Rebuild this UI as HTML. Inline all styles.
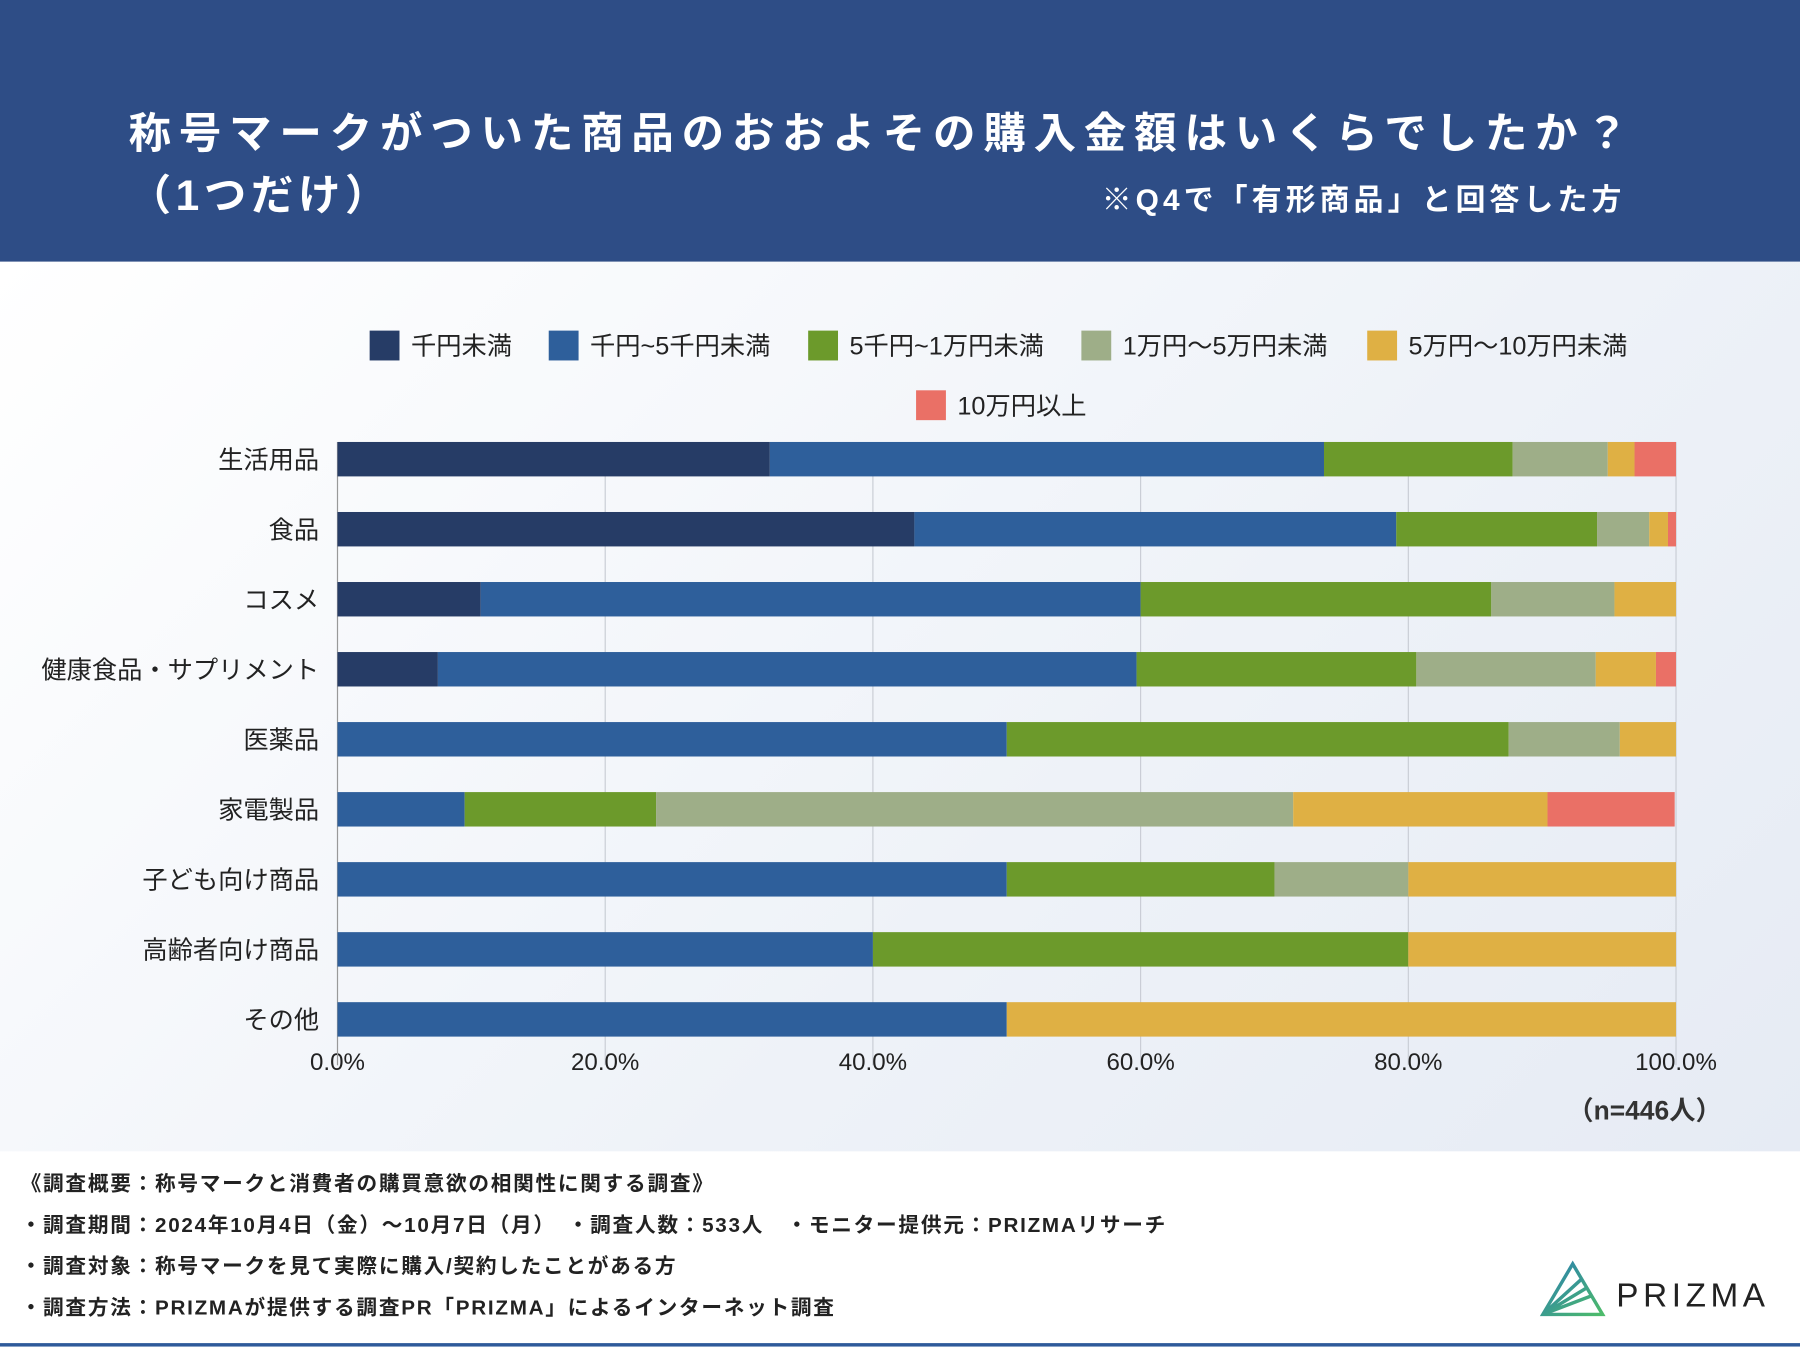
<!DOCTYPE html>
<html><head><meta charset="utf-8"><style>
html,body{margin:0;padding:0;width:1800px;height:1350px;overflow:hidden;background:#fff}
#wrap{position:absolute;left:0;top:0;width:1568px;height:1176px;transform:scale(1.147959);transform-origin:0 0;font-family:"Liberation Sans","Noto Sans CJK JP",sans-serif}
.hdr{position:absolute;left:0;top:0;width:1568px;height:228px;background:#2e4d86;color:#fff}
.body{position:absolute;left:0;top:228px;width:1568px;height:775px;background:linear-gradient(135deg,#ffffff 0%,#eef2f8 60%,#e6ebf4 100%)}
.foot{position:absolute;left:0;top:1003px;width:1568px;height:173px;background:#fff}
.ft{position:absolute;left:18px;font-size:18px;font-weight:bold;color:#222;letter-spacing:1.5px;white-space:nowrap}
</style></head><body>
<div id="wrap">
<div class="hdr">
<div style="position:absolute;left:112px;top:86px;font-size:37px;font-weight:bold;letter-spacing:6.8px;white-space:nowrap">称号マークがついた商品のおおよその購入金額はいくらでしたか？</div>
<div style="position:absolute;left:112px;top:140px;font-size:37px;font-weight:bold;letter-spacing:4px">（1つだけ）</div>
<div style="position:absolute;right:152px;top:154px;font-size:26px;font-weight:bold;letter-spacing:3.6px;white-space:nowrap">※Q4で「有形商品」と回答した方</div>
</div>
<div class="body"></div>
<svg id="chart" style="position:absolute;left:0;top:0" width="1568" height="1003"></svg>
<div class="foot">
<div class="ft" style="top:14px">《調査概要：称号マークと消費者の購買意欲の相関性に関する調査》</div>
<div class="ft" style="top:50px">・調査期間：2024年10月4日（金）～10月7日（月）　・調査人数：533人　・モニター提供元：PRIZMAリサーチ</div>
<div class="ft" style="top:86px">・調査対象：称号マークを見て実際に購入/契約したことがある方</div>
<div class="ft" style="top:122px">・調査方法：PRIZMAが提供する調査PR「PRIZMA」によるインターネット調査</div>
<svg style="position:absolute;left:1340px;top:95px" width="220" height="55">
<defs><linearGradient id="lg" x1="0" y1="0" x2="1" y2="1"><stop offset="0" stop-color="#2a7fb0"/><stop offset="1" stop-color="#4dbb6a"/></linearGradient></defs>
<polygon points="30,3 4,47 56,47" fill="none" stroke="url(#lg)" stroke-width="3"/>
<path d="M4,47 L38,16 M4,47 L42,24 M4,47 L46,31" stroke="url(#lg)" stroke-width="3" fill="none"/>
<text x="68" y="40" font-size="29" font-family="Liberation Sans" letter-spacing="4" fill="#222">PRIZMA</text>
</svg>
<div style="position:absolute;left:0;top:167px;width:1568px;height:3px;background:#2e5a9a"></div>
</div>
</div>
<script>
const categories=["生活用品","食品","コスメ","健康食品・サプリメント","医薬品","家電製品","子ども向け商品","高齢者向け商品","その他"];
const seriesNames=["千円未満","千円~5千円未満","5千円~1万円未満","1万円～5万円未満","5万円～10万円未満","10万円以上"];
const s1=[32.3,43.1,10.7,7.5,0,0,0,0,0];
const s2=[41.4,36.0,49.3,52.2,50.0,9.5,50,40,50];
const s3=[14.1,15.0,26.2,20.9,37.5,14.3,20,40,0];
const s4=[7.1,3.9,9.2,13.4,8.3,47.6,10,0,0];
const s5=[2.0,1.4,4.6,4.5,4.2,19.0,20,20,50];
const s6=[3.1,0.6,0,1.5,0,9.5,0,0,0];
const ticks=["0.0%","20.0%","40.0%","60.0%","80.0%","100.0%"];
const colors=["#263c66","#2e5f9b","#6c9a2b","#9eae88","#dfb044","#ea7066"];
const NS="http://www.w3.org/2000/svg";
const svg=document.getElementById('chart');
const x0=294,x1=1460,yTop=385,rowH=61;
const xs=v=>x0+(x1-x0)*v/100;
const yc=i=>yTop+15+i*rowH;
function mk(t,a){const e=document.createElementNS(NS,t);for(const k in a)e.setAttribute(k,a[k]);svg.appendChild(e);return e;}
ticks.forEach((t,i)=>{const x=xs(i*20);
 const g=mk('line',{x1:x,x2:x,y1:yTop,y2:yTop+rowH*9-6,stroke:'#c8ccd4','stroke-width':1});
 
 
 const tx=mk('text',{x:x,y:932,'font-size':21,'text-anchor':'middle',fill:'#222'});tx.textContent=t;
 
 });
const ax=mk('line',{x1:x0,x2:x0,y1:yTop,y2:yTop+rowH*9-6,stroke:'#999','stroke-width':1});


const series=[s1,s2,s3,s4,s5,s6];
categories.forEach((c,i)=>{
 const t=mk('text',{x:278,y:yc(i)+8,'font-size':22,'text-anchor':'end',fill:'#222'});t.textContent=c;
 
 
 let acc=0;
 series.forEach((s,k)=>{const v=s[i];if(v>0){
  const r=mk('rect',{x:xs(acc),y:yc(i)-15,width:xs(acc+v)-xs(acc),height:30,fill:colors[k]});
  
  }
  acc+=v;});
});
const legPos=[[322,301],[478,301],[704,301],[942,301],[1191,301],[798,353]];
seriesNames.forEach((n,k)=>{const [x,y]=legPos[k];
 const r=mk('rect',{x:x,y:y-13,width:26,height:26,fill:colors[k]});
 
 
 const t=mk('text',{x:x+36,y:y+8,'font-size':22,fill:'#222'});t.textContent=n;
 
 });
const nt=mk('text',{x:1500,y:975,'font-size':23,'font-weight':'bold','text-anchor':'end',fill:'#333'});nt.textContent="（n=446人）";


</script>
</body></html>
